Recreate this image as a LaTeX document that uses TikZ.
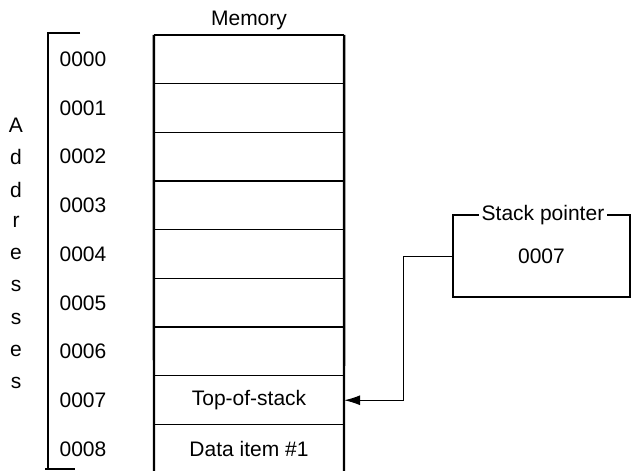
\documentclass[tikz,border=0pt]{standalone}
\usepackage{fontspec}
\setmainfont{Liberation Sans}
\usetikzlibrary{arrows.meta}
\begin{document}
\begin{tikzpicture}[x=1pt,y=-1pt,
  txt/.style={font=\fontsize{21}{25}\selectfont, inner sep=0pt},
  cell/.style={minimum width=190pt, minimum height=48.7pt, inner sep=0pt, font=\fontsize{21}{25}\selectfont},
  sep/.style={line width=1.3pt},
  side/.style={line width=2.4pt},
  brk/.style={line width=1.4pt},
  conn/.style={line width=1pt}
]
\useasboundingbox (0,0) rectangle (633,471);
% memory cells
\foreach \i/\t in {0/,1/,2/,3/,4/,5/,6/,7/Top-of-stack,8/Data item \#1}{
  \node[cell] (cell\i) at (249, {35+48.7*(\i+0.5)}) {\t};
}
\node[txt] (mem) at (249,20) {Memory};
% box outline
\draw[side] (cell0.north west) -- (cell0.north east);
\coordinate (bl) at (154,471);
\coordinate (br) at (344,471);
\draw[side] (cell0.north west) -- (bl);
\draw[side] (cell0.north east) -- (br);
\foreach \i in {1,...,8}{
  \draw[sep] (cell\i.north west) -- (cell\i.north east);
}
% address labels
\foreach \i in {0,...,8}{
  \node[txt] (addr\i) at (83, {35+48.7*(\i+0.5)}) {000\i};
}
% bracket
\coordinate (bt) at (48,33);
\coordinate (btr) at (80,33);
\coordinate (bb) at (48,469);
\coordinate (bbl) at (45,469);
\coordinate (bbr) at (75,469);
\draw[brk] (btr) -- (bt) -- (bb);
\draw[brk] (bbl) -- (bbr);
% Addresses vertical
\foreach \l [count=\k from 0] in {A,d,d,r,e,s,s,e,s}{
  \node[txt] (let\k) at (16, {125+32.25*\k}) {\l};
}
% stack pointer box
\node[draw, line width=2pt, minimum width=177pt, minimum height=82pt, inner sep=0pt, font=\fontsize{21}{25}\selectfont] (spb) at (541.5,256) {0007};
\node[txt, fill=white, inner xsep=3pt] (splabel) at (543,215) {Stack pointer};
% connector
\draw[conn, -{Latex[length=16pt,width=10pt]}] (spb.west) -- ++(-49,0) |- (cell7.east);
\end{tikzpicture}
\end{document}
